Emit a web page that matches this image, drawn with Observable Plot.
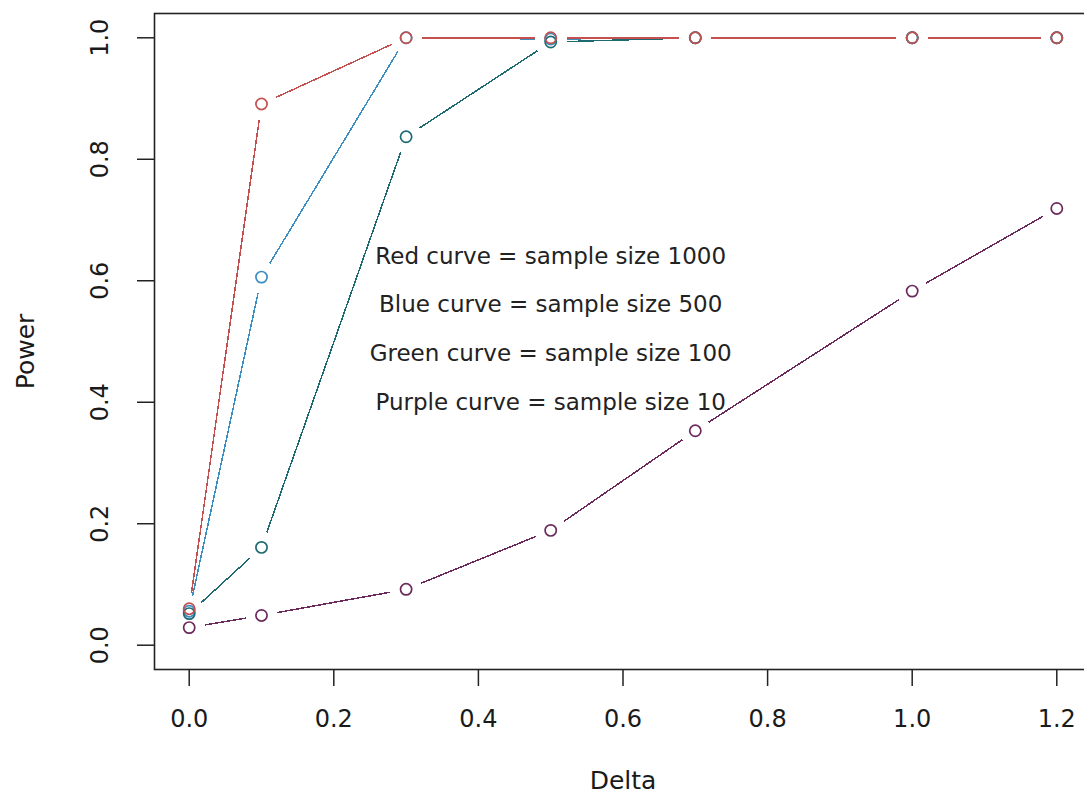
<!DOCTYPE html>
<html>
<head>
<meta charset="utf-8">
<script src="https://cdn.jsdelivr.net/npm/d3@7"></script>
<script src="https://cdn.jsdelivr.net/npm/@observablehq/plot@0.6"></script>
<style>
  html, body { margin: 0; padding: 0; background: #ffffff; overflow: hidden; }
  #chart { width: 1084px; height: 793px; }
</style>
</head>
<body>
<div id="chart"></div>
<script>
// ---- data ----
const delta = [0, 0.1, 0.3, 0.5, 0.7, 1.0, 1.2];
const powerRed    = [0.060, 0.891, 1.000, 1.000, 1.000, 1.000, 1.000];
const powerBlue   = [0.056, 0.606, 1.000, 0.998, 1.000, 1.000, 1.000];
const powerGreen  = [0.052, 0.161, 0.837, 0.993, 1.000, 1.000, 1.000];
const powerPurple = [0.029, 0.049, 0.092, 0.189, 0.353, 0.583, 0.719];
const seriesNames = ["Red", "Blue", "Green", "Purple"];
const seriesColors = ["#c4504f", "#3a8ec2", "#1e6a72", "#6c2a5c"];
const drawOrder = ["Purple", "Blue", "Green", "Red"];
const xTicks = [0, 0.2, 0.4, 0.6, 0.8, 1.0, 1.2];
const yTicks = [0, 0.2, 0.4, 0.6, 0.8, 1.0];
const noteLabels = [
  "Red curve = sample size 1000",
  "Blue curve = sample size 500",
  "Green curve = sample size 100",
  "Purple curve = sample size 10"
];
const noteX = 0.5;
const noteY = [0.64, 0.56, 0.48, 0.40];
const xLabel = "Delta";
const yLabel = "Power";

// ---- layout ----
const W = 1084, H = 793;
const mL = 154, mR = -7, mT = 13, mB = 124;
const xDomain = [-0.048, 1.248];
const yDomain = [-0.04, 1.04];
const gap = 16; // px gap between line ends and points (R type = "b")

const sx = d3.scaleLinear(xDomain, [mL, W - mR]);
const sy = d3.scaleLinear(yDomain, [H - mB, mT]);

const seriesValues = [powerRed, powerBlue, powerGreen, powerPurple];

function segmentsFor(vals) {
  const segs = [];
  for (let i = 0; i < delta.length - 1; i++) {
    const px = sx(delta[i]), py = sy(vals[i]);
    const qx = sx(delta[i + 1]), qy = sy(vals[i + 1]);
    const dx = qx - px, dy = qy - py;
    const d = Math.hypot(dx, dy);
    if (d <= 2 * gap) continue;
    const ux = dx / d, uy = dy / d;
    segs.push({
      x1: sx.invert(px + ux * gap), y1: sy.invert(py + uy * gap),
      x2: sx.invert(qx - ux * gap), y2: sy.invert(qy - uy * gap)
    });
  }
  return segs;
}

const marks = [];
drawOrder.forEach(name => {
  const s = seriesNames.indexOf(name);
  const vals = seriesValues[s];
  const color = seriesColors[s];
  marks.push(Plot.link(segmentsFor(vals), {
    x1: "x1", y1: "y1", x2: "x2", y2: "y2",
    stroke: color, strokeWidth: 1.5, shapeRendering: "crispEdges"
  }));
  marks.push(Plot.dot(delta.map((x, i) => ({x, y: vals[i], series: name})), {
    x: "x", y: "y", r: 5.6, stroke: color, strokeWidth: 1.7, fill: "none"
  }));
});

// annotation texts
marks.push(Plot.text(noteLabels.map((t, i) => ({t, x: noteX, y: noteY[i]})), {
  x: "x", y: "y", text: "t", fontSize: 23, fill: "#222222",
  textAnchor: "middle", lineAnchor: "middle"
}));

// axes
marks.push(Plot.axisX(xTicks, {
  tickSize: 17, tickPadding: 23, tickFormat: d => d.toFixed(1),
  fontSize: 24, label: null, stroke: "#222222", strokeWidth: 1.5, fill: "#1a1a1a"
}));
marks.push(Plot.axisY(yTicks, {
  tickSize: 17, tickFormat: () => "", label: null, stroke: "#222222", strokeWidth: 1.5
}));
marks.push(Plot.text(yTicks, {
  frameAnchor: "left", y: d => d, text: d => d.toFixed(1),
  rotate: -90, dx: -54, textAnchor: "middle", lineAnchor: "middle",
  fontSize: 24, fill: "#1a1a1a"
}));
marks.push(Plot.text([xLabel], {
  frameAnchor: "bottom", dy: 111, fontSize: 25, fill: "#1a1a1a",
  textAnchor: "middle", lineAnchor: "middle"
}));
marks.push(Plot.text([yLabel], {
  frameAnchor: "left", dx: -129, dy: 10, rotate: -90, fontSize: 25, fill: "#1a1a1a",
  textAnchor: "middle", lineAnchor: "middle"
}));
marks.push(Plot.frame({stroke: "#222222", strokeWidth: 1.6}));

const chart = Plot.plot({
  width: W, height: H,
  marginLeft: mL, marginRight: mR, marginTop: mT, marginBottom: mB,
  x: {domain: xDomain},
  y: {domain: yDomain},
  style: {fontFamily: "'DejaVu Sans', sans-serif", fontSize: "24px", background: "#ffffff", color: "#1a1a1a"},
  marks
});
document.getElementById("chart").appendChild(chart);
</script>
</body>
</html>
